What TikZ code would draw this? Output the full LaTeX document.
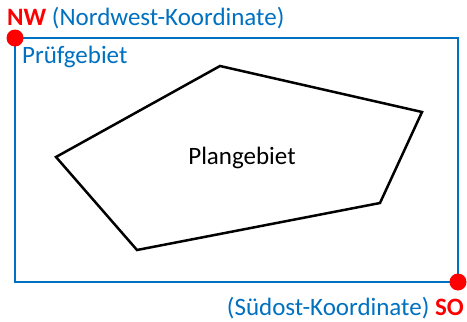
\documentclass[tikz,border=0pt]{standalone}
\usepackage{fontspec}
\setmainfont{Carlito}
\usetikzlibrary{positioning}
\definecolor{areablue}{HTML}{0070C0}
\definecolor{pointred}{HTML}{FF0000}
\tikzset{
    pg frame/.style={draw=areablue, line width=2.7pt},
    pg plan/.style={draw=black, line width=2.5pt, line join=miter},
    pg dot/.style={circle, fill=pointred, minimum size=17pt, inner sep=0pt},
    pg lbl/.style={font=\fontsize{25}{29}\selectfont, inner sep=0pt},
}
\newcommand{\pgkey}[1]{\textcolor{pointred}{\bfseries #1}}
\begin{document}
\begin{tikzpicture}[x=1pt, y=-1pt]
    \useasboundingbox (0,0) rectangle (467,322);
    % Pruefgebiet (frame)
    \coordinate (tl) at (15,38);
    \coordinate (br) at (458,282);
    \draw[pg frame] (tl) rectangle (br);
    % Plangebiet (polygon)
    \coordinate (p1) at (220,66);
    \coordinate (p2) at (422,112);
    \coordinate (p3) at (380,203);
    \coordinate (p4) at (137,250);
    \coordinate (p5) at (56,157);
    \draw[pg plan] (p1) -- (p2) -- (p3) -- (p4) -- (p5) -- cycle;
    \node[pg lbl] (plan) at (242,158) {Plangebiet};
    \node[pg lbl, text=areablue, anchor=base west] (pruef) at (22,63) {Prüfgebiet};
    % Corner points
    \node[pg dot] (nw) at (tl) {};
    \node[pg dot] (so) at (br) {};
    \node[pg lbl, text=areablue, anchor=base west] (nwlbl) at (7,25)
        {\pgkey{NW} (Nordwest-Koordinate)};
    \node[pg lbl, text=areablue, anchor=base east] (solbl) at (464,315)
        {(Südost-Koordinate) \pgkey{SO}};
\end{tikzpicture}
\end{document}
